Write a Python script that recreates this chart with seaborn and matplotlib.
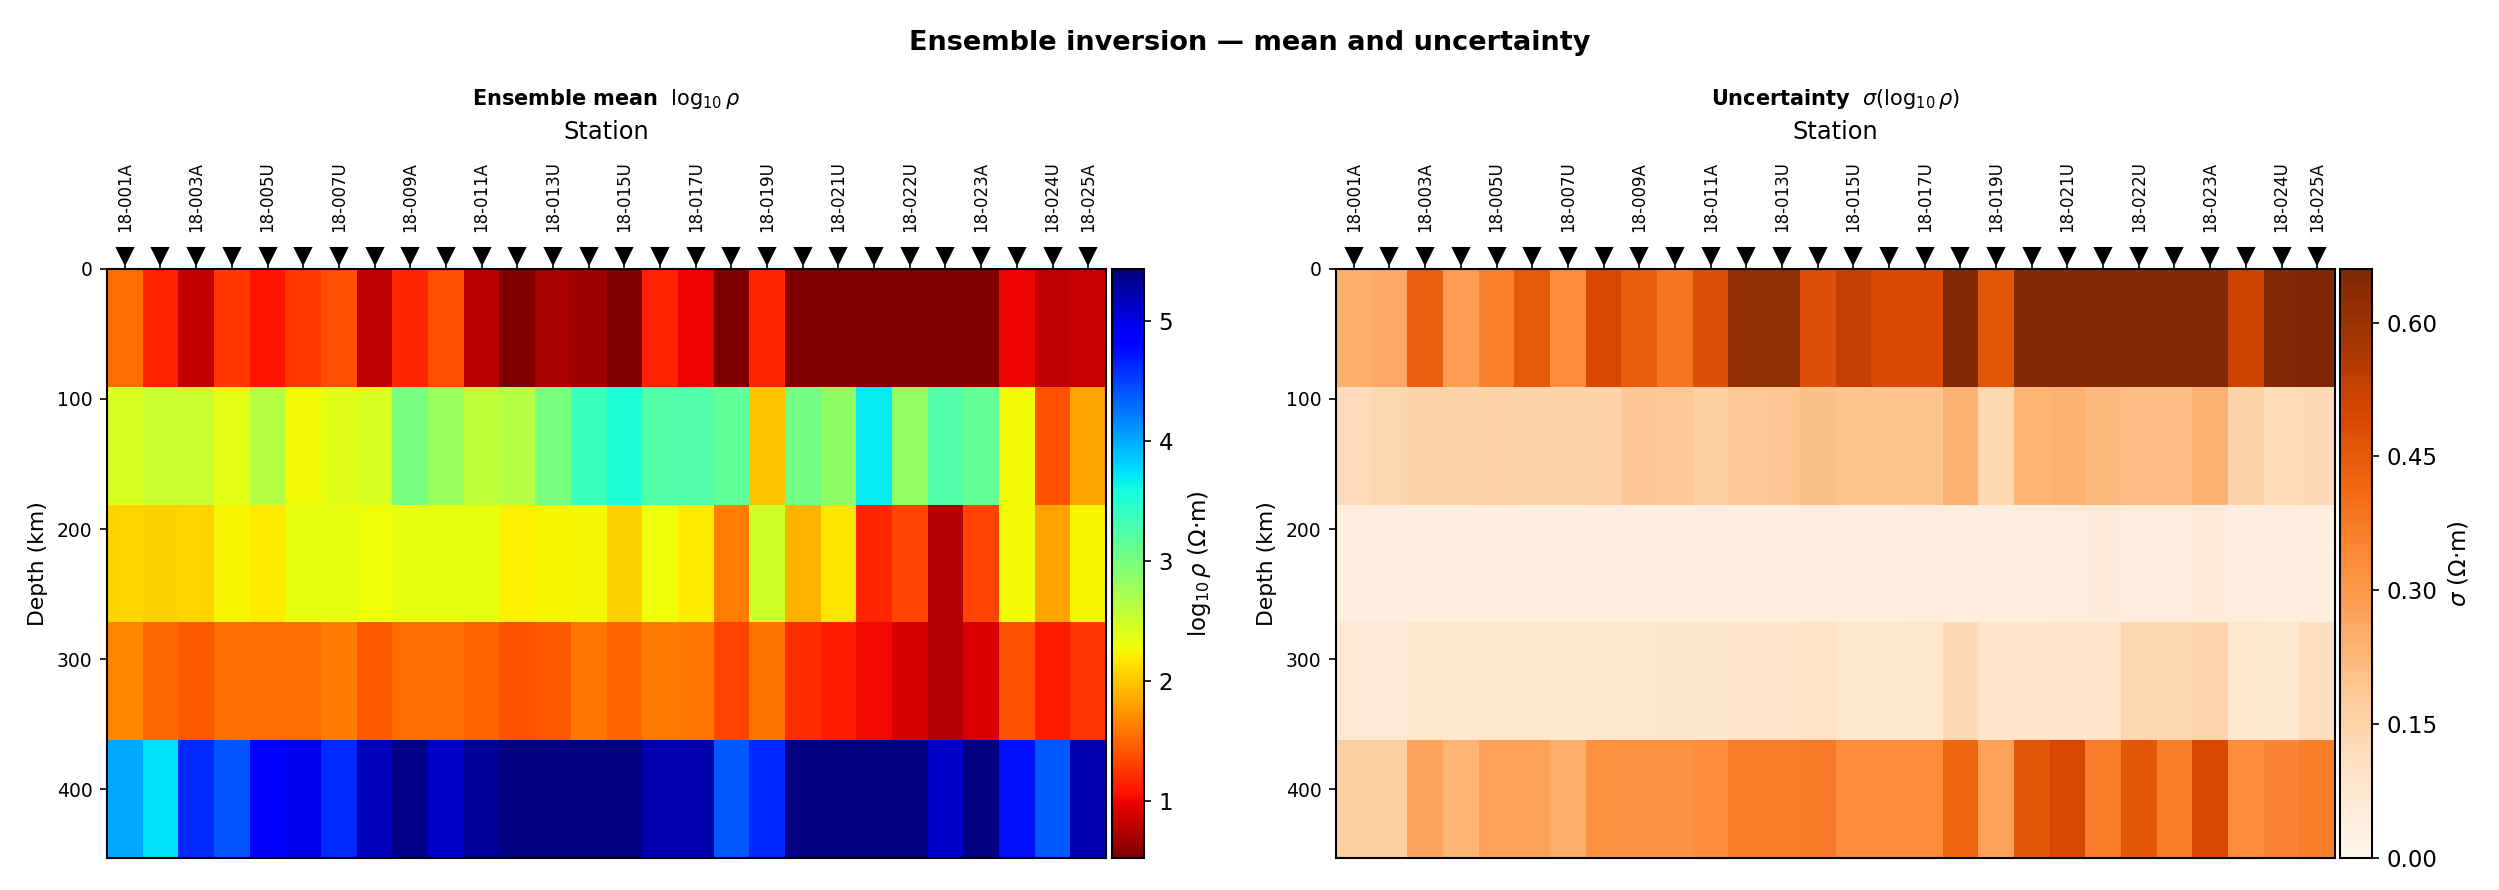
import numpy as np
import pandas as pd
import matplotlib
matplotlib.use("Agg")
import matplotlib.pyplot as plt
import seaborn as sns

# stations along the profile (only every other one is labelled, plus the last)
stations = ["18-001A", "18-002A", "18-003A", "18-004A", "18-005U", "18-006U", "18-007U",
            "18-008A", "18-009A", "18-010A", "18-011A", "18-012U", "18-013U", "18-014U",
            "18-015U", "18-016U", "18-017U", "18-018U", "18-019U", "18-020U", "18-021U",
            "18-021A", "18-022U", "18-022A", "18-023A", "18-023U", "18-024U", "18-025A"]

layer_names = ["L1", "L2", "L3", "L4", "L5"]
layer_thickness_km = 90.6
depth_ticks = [0, 100, 200, 300, 400]

# ensemble mean log10(rho), one list per layer (top -> bottom)
mean_l1 = [1.54, 1.16, 0.83, 1.27, 1.10, 1.27, 1.38, 0.81, 1.18, 1.38, 0.78, 0.54, 0.71, 0.68,
           0.53, 1.16, 0.99, 0.53, 1.18, 0.53, 0.53, 0.53, 0.53, 0.53, 0.53, 1.00, 0.80, 0.85]
mean_l2 = [2.44, 2.53, 2.53, 2.36, 2.64, 2.29, 2.37, 2.44, 3.00, 2.79, 2.59, 2.64, 3.00, 3.37,
           3.52, 3.24, 3.24, 3.15, 2.00, 3.03, 2.85, 3.67, 2.83, 3.24, 3.13, 2.29, 1.41, 1.83]
mean_l3 = [2.08, 2.05, 2.08, 2.25, 2.19, 2.34, 2.34, 2.31, 2.33, 2.34, 2.33, 2.22, 2.24, 2.26,
           2.05, 2.30, 2.18, 1.63, 2.49, 1.90, 2.16, 1.18, 1.33, 0.75, 1.33, 2.29, 1.83, 2.25]
mean_l4 = [1.67, 1.51, 1.44, 1.54, 1.53, 1.53, 1.62, 1.44, 1.56, 1.56, 1.49, 1.41, 1.43, 1.59,
           1.49, 1.62, 1.59, 1.33, 1.58, 1.21, 1.12, 1.02, 0.90, 0.75, 0.92, 1.41, 1.12, 1.24]
mean_l5 = [4.01, 3.74, 4.62, 4.41, 4.84, 4.97, 4.62, 5.18, 5.38, 5.11, 5.33, 5.43, 5.43, 5.43,
           5.42, 5.23, 5.23, 4.39, 4.64, 5.42, 5.42, 5.42, 5.42, 5.11, 5.42, 4.74, 4.39, 5.23]

# ensemble standard deviation of log10(rho)
std_l1 = [0.245, 0.26, 0.435, 0.29, 0.36, 0.45, 0.33, 0.495, 0.44, 0.385, 0.475, 0.62, 0.62, 0.475,
          0.53, 0.49, 0.49, 0.655, 0.46, 0.65, 0.65, 0.65, 0.65, 0.65, 0.65, 0.515, 0.65, 0.66]
std_l2 = [0.12, 0.14, 0.15, 0.15, 0.155, 0.15, 0.15, 0.155, 0.19, 0.185, 0.165, 0.185, 0.19, 0.205,
          0.195, 0.195, 0.195, 0.24, 0.14, 0.23, 0.24, 0.22, 0.21, 0.21, 0.24, 0.15, 0.125, 0.13]
std_l3 = [0.04, 0.04, 0.04, 0.04, 0.04, 0.04, 0.04, 0.04, 0.04, 0.04, 0.04, 0.04, 0.04, 0.04,
          0.04, 0.04, 0.045, 0.04, 0.04, 0.04, 0.045, 0.05, 0.045, 0.045, 0.05, 0.045, 0.04, 0.04]
std_l4 = [0.065, 0.065, 0.08, 0.08, 0.08, 0.08, 0.08, 0.075, 0.08, 0.085, 0.085, 0.09, 0.09, 0.095,
          0.08, 0.08, 0.08, 0.13, 0.09, 0.09, 0.09, 0.09, 0.14, 0.14, 0.145, 0.08, 0.07, 0.11]
std_l5 = [0.17, 0.17, 0.27, 0.23, 0.28, 0.28, 0.25, 0.32, 0.32, 0.32, 0.33, 0.365, 0.365, 0.37,
          0.33, 0.33, 0.33, 0.42, 0.28, 0.46, 0.495, 0.365, 0.46, 0.365, 0.495, 0.33, 0.35, 0.365]

df_mean = pd.DataFrame([mean_l1, mean_l2, mean_l3, mean_l4, mean_l5],
                       index=layer_names, columns=stations)
df_std = pd.DataFrame([std_l1, std_l2, std_l3, std_l4, std_l5],
                      index=layer_names, columns=stations)

fig = plt.figure(figsize=(2499 / 150, 890 / 150), dpi=150)
ax1 = fig.add_axes([0.0428, 0.036, 0.3998, 0.6618])
cax1 = fig.add_axes([0.4449, 0.036, 0.0128, 0.6618])
ax2 = fig.add_axes([0.5346, 0.036, 0.3998, 0.6618])
cax2 = fig.add_axes([0.9364, 0.036, 0.0128, 0.6618])

sns.heatmap(df_mean, ax=ax1, cbar_ax=cax1, cmap="jet_r", vmin=0.53, vmax=5.43,
            xticklabels=True, yticklabels=False)
sns.heatmap(df_std, ax=ax2, cbar_ax=cax2, cmap="Oranges", vmin=0.0, vmax=0.66,
            xticklabels=True, yticklabels=False)

n = len(stations)
shown = [s if (i % 2 == 0 or i == n - 1) else "" for i, s in enumerate(stations)]

titles = [r"$\bf{Ensemble\ mean}$  $\log_{10}\rho$",
          r"$\bf{Uncertainty}$  $\sigma(\log_{10}\rho)$"]
for ax, title in zip([ax1, ax2], titles):
    ax.set_xticks(np.arange(n) + 0.5)
    ax.set_xticklabels(shown, rotation=90, fontsize=8)
    ax.xaxis.tick_top()
    ax.tick_params(axis="x", top=True, bottom=False, labeltop=True, labelbottom=False,
                   length=3.5, pad=14)
    ax.xaxis.set_label_position("top")
    ax.set_xlabel("Station", fontsize=11.5, labelpad=11)
    ax.set_yticks(np.array(depth_ticks) / layer_thickness_km)
    ax.set_yticklabels(depth_ticks, rotation=0, fontsize=9)
    ax.tick_params(axis="y", left=True, length=3.5)
    ax.set_ylabel("Depth (km)", fontsize=10.5)
    for sp in ax.spines.values():
        sp.set_visible(True)
        sp.set_linewidth(1.0)
        sp.set_color("black")
    # station markers
    ax.plot(np.arange(n) + 0.5, np.full(n, 1.022), "v", color="black", ms=8,
            transform=ax.get_xaxis_transform(), clip_on=False)
    ax.set_title(title, fontsize=10, pad=7)

cb1 = ax1.collections[0].colorbar
cb1.outline.set_linewidth(1.0)
cb1.outline.set_edgecolor("black")
cb1.set_ticks([1, 2, 3, 4, 5])
cb1.ax.tick_params(labelsize=11)
cb1.set_label(r"$\log_{10}\rho$ (Ω·m)", fontsize=11, labelpad=6)

cb2 = ax2.collections[0].colorbar
cb2.outline.set_linewidth(1.0)
cb2.outline.set_edgecolor("black")
cb2.set_ticks([0.0, 0.15, 0.30, 0.45, 0.60])
cb2.set_ticklabels(["0.00", "0.15", "0.30", "0.45", "0.60"])
cb2.ax.tick_params(labelsize=11)
cb2.set_label(r"$\sigma$ (Ω·m)", fontsize=11)

fig.suptitle("Ensemble inversion — mean and uncertainty", fontweight="bold",
             fontsize=13, y=0.966)

fig.savefig("out.png", dpi=150)
